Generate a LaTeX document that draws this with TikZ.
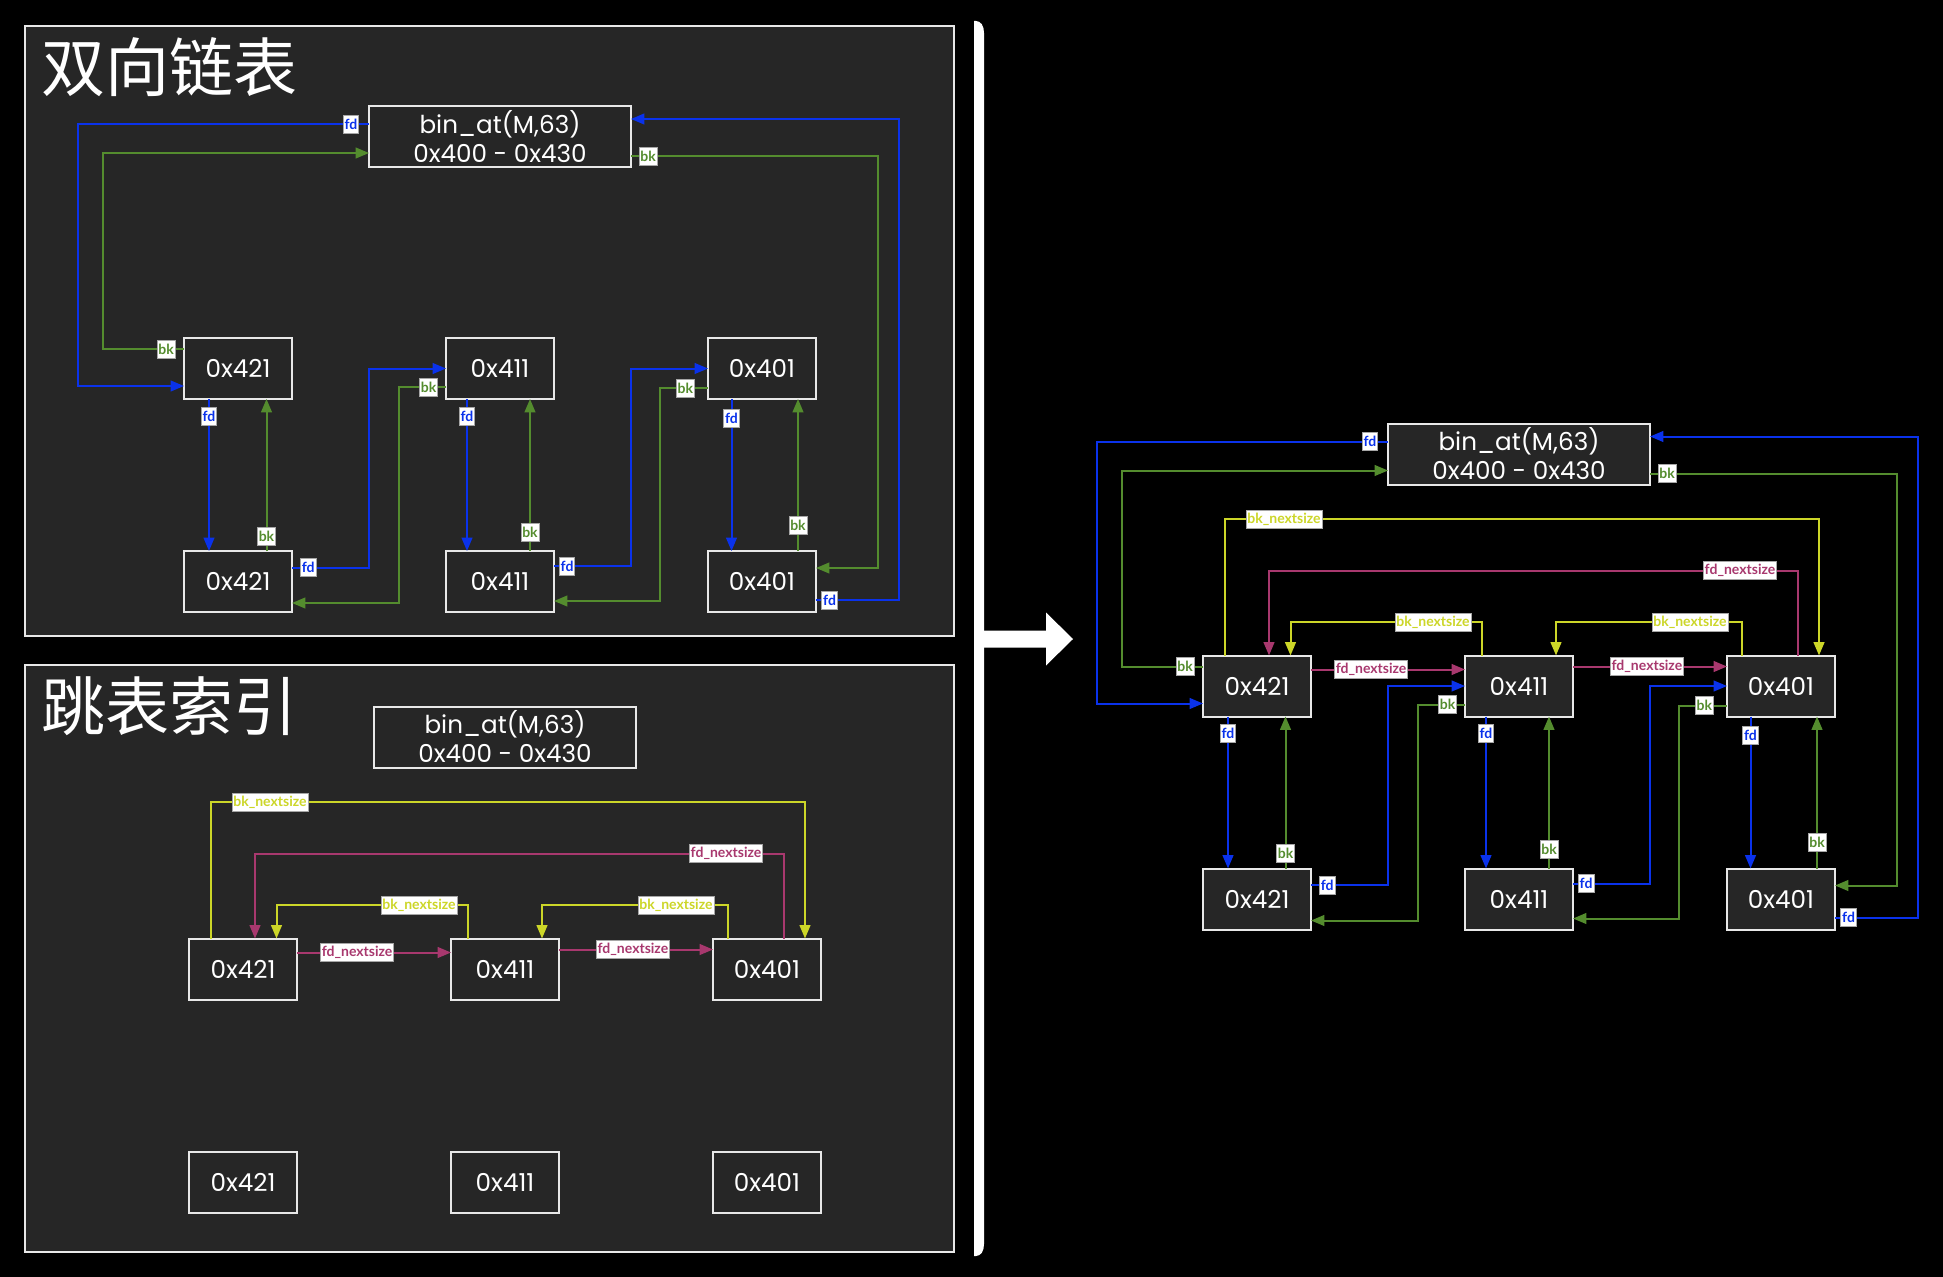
\documentclass[tikz,border=0pt]{standalone}
\usepackage{fontspec}
\setmainfont{Poppins}
\newfontfamily\cjk{Noto Sans CJK SC}
\newfontfamily\labfont{Lato}
\usetikzlibrary{arrows.meta,calc}
\definecolor{fdblue}{RGB}{10,50,235}
\definecolor{bkgreen}{RGB}{84,140,46}
\definecolor{nsyellow}{RGB}{204,214,40}
\definecolor{nsmag}{RGB}{168,56,110}
\definecolor{panelgray}{RGB}{38,38,38}
\definecolor{edgewhite}{RGB}{232,232,232}
\tikzset{
  nd/.style={draw=edgewhite, line width=1.5pt, fill=panelgray, text=white,
    minimum width=81pt, minimum height=45.75pt, inner sep=0pt, outer sep=0pt,
    font=\fontsize{18.5}{21.75}\selectfont, align=center},
  binbox/.style={nd, minimum width=196.5pt},
  conn/.style={line width=1.5pt, -{Triangle[length=10pt,width=8pt]}},
  fdc/.style={conn, color=fdblue},
  bkc/.style={conn, color=bkgreen},
  bnc/.style={conn, color=nsyellow},
  fnc/.style={conn, color=nsmag},
  lab/.style={fill=white, draw=gray!70, line width=0.5pt, inner xsep=1pt, inner ysep=0pt,
    minimum height=13.5pt, font=\labfont\bfseries\fontsize{10.5}{11}\selectfont},
  panel/.style={fill=panelgray, draw=edgewhite, line width=1.5pt},
  ttl/.style={anchor=west, text=white, inner sep=0pt, font=\cjk\fontsize{48}{52}\selectfont}
}
\newcommand\LLnodes{%
  \node[binbox] (bin) at (500,136.5) {bin\_at(M,63)\\0x400 - 0x430};
  \node[nd] (t1) at (238,368.5) {0x421};
  \node[nd] (t2) at (500,368.5) {0x411};
  \node[nd] (t3) at (762,368.5) {0x401};
  \node[nd] (b1) at (238,581.5) {0x421};
  \node[nd] (b2) at (500,581.5) {0x411};
  \node[nd] (b3) at (762,581.5) {0x401};
}
\newcommand\fdbkedges{%
  \draw[fdc] (bin.west |- 0,124) -- node[lab,pos=.062]{fd} (78,124) |- (t1.west |- 0,386);
  \draw[bkc] (t1.west |- 0,349) -- node[lab,pos=.222]{bk} (103,349) |- (bin.west |- 0,153);
  \draw[fdc] (b3.east |- 0,600) -- node[lab,pos=.163]{fd} (899,600) |- (bin.east |- 0,119);
  \draw[bkc] (bin.east |- 0,156) -- node[lab,pos=.069]{bk} (878,156) |- (b3.east |- 0,568);
  \draw[fdc] (t1.south -| 209,0) -- node[lab,pos=.112]{fd} (b1.north -| 209,0);
  \draw[fdc] (t2.south -| 467,0) -- node[lab,pos=.112]{fd} (b2.north -| 467,0);
  \draw[fdc] (t3.south -| 731.5,0) -- node[lab,pos=.125]{fd} (b3.north -| 731.5,0);
  \draw[bkc] (b1.north -| 266.5,0) -- node[lab,pos=.099]{bk} (t1.south -| 266.5,0);
  \draw[bkc] (b2.north -| 530,0) -- node[lab,pos=.125]{bk} (t2.south -| 530,0);
  \draw[bkc] (b3.north -| 798,0) -- node[lab,pos=.171]{bk} (t3.south -| 798,0);
  \draw[fdc] (b1.east |- 0,567.5) -- node[lab,pos=.21]{fd} (369,567.5) |- (t2.west);
  \draw[bkc] (t2.west |- 0,387) -- node[lab,pos=.37]{bk} (399,387) |- (b1.east |- 0,603);
  \draw[fdc] (b2.east |- 0,566) -- node[lab,pos=.17]{fd} (631,566) |- (t3.west);
  \draw[bkc] (t3.west |- 0,388) -- node[lab,pos=.47]{bk} (660,388) |- (b2.east |- 0,601);
}
\newcommand\nsedges{%
  \draw[bnc] (t1.north -| 206,0) -- (206,201.5) -- node[lab,pos=.0993]{bk\_nextsize} (800,201.5) -- (t3.north -| 800,0);
  \draw[fnc] (t3.north -| 779,0) -- (779,253) -- node[lab,pos=.1096]{fd\_nextsize} (250,253) -- (t1.north -| 250,0);
  \draw[bnc] (t2.north -| 463,0) -- (463,304.5) -- node[lab,pos=.256]{bk\_nextsize} (271.5,304.5) -- (t1.north -| 271.5,0);
  \draw[bnc] (t3.north -| 722.5,0) -- (722.5,304.5) -- node[lab,pos=.278]{bk\_nextsize} (537,304.5) -- (t2.north -| 537,0);
  \draw[fnc] (t1.east |- 0,352) -- node[lab,pos=.39]{fd\_nextsize} (t2.west |- 0,352);
  \draw[fnc] (t2.east |- 0,349) -- node[lab,pos=.48]{fd\_nextsize} (t3.west |- 0,349);
}
\begin{document}
\begin{tikzpicture}[x=0.75pt,y=-0.75pt]
\useasboundingbox (0,0) rectangle (1943,1277);
\fill[black] (0,0) rectangle (1943,1277);
% panels
\draw[panel] (25,26) rectangle (954,636);
\draw[panel] (25,665) rectangle (954,1252);
\node[ttl] (title1) at (41,67) {双向链表};
\node[ttl] (title2) at (41,706) {跳表索引};
% separator bar and arrow
\fill[white] (974,21) -- (976,21) .. controls (981,21) and (984,26) .. (984,33)
  -- (984,1244) .. controls (984,1251) and (981,1256) .. (976,1256) -- (974,1256) -- cycle;
\fill[white] (984,630.5) -- (1046,630.5) -- (1046,612.5) -- (1073,639) -- (1046,665.5)
  -- (1046,647.5) -- (984,647.5) -- cycle;
% panel 1: doubly linked list
\begin{scope}[name prefix=A-]
  \LLnodes
  \fdbkedges
\end{scope}
% panel 2: skip index
\begin{scope}[shift={(5,600.5)}, name prefix=B-]
  \LLnodes
  \nsedges
\end{scope}
% right: combined
\begin{scope}[shift={(1019,317.5)}, name prefix=C-]
  \LLnodes
  \fdbkedges
  \nsedges
\end{scope}
\end{tikzpicture}
\end{document}
